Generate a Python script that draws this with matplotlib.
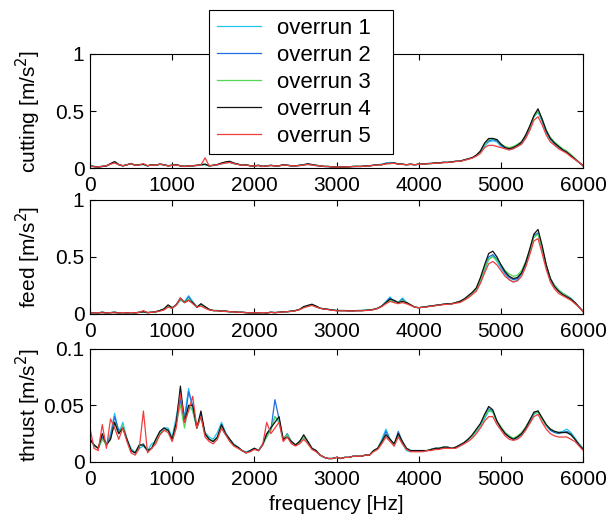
"""
Spectra of cutting, feed and thrust acceleration for five overruns.
"""

import numpy as np
import matplotlib.pyplot as plt

plt.rcParams["font.family"] = ["Liberation Sans", "DejaVu Sans"]

freq = np.arange(0, 6001, 50)  # Hz

labels = ["overrun 1", "overrun 2", "overrun 3", "overrun 4", "overrun 5"]
colors = ["#22c4f0", "#1f6fe0", "#55d655", "#111111", "#f03c3c"]

cut1 = [0.02,0.012,0.012,0.018,0.022,0.035,0.055,0.028,0.022,0.03,
        0.038,0.028,0.032,0.03,0.022,0.028,0.028,0.032,0.028,0.022,
        0.028,0.032,0.022,0.018,0.022,0.018,0.022,0.028,0.03,0.022,
        0.022,0.028,0.038,0.045,0.05,0.042,0.032,0.028,0.028,0.022,
        0.022,0.022,0.018,0.022,0.022,0.022,0.022,0.028,0.028,0.022,
        0.022,0.022,0.028,0.032,0.028,0.022,0.018,0.015,0.012,0.01,
        0.01,0.01,0.012,0.012,0.015,0.018,0.015,0.02,0.022,0.028,
        0.03,0.035,0.042,0.05,0.045,0.038,0.032,0.03,0.032,0.03,
        0.032,0.035,0.038,0.042,0.045,0.048,0.05,0.052,0.055,0.06,
        0.062,0.07,0.08,0.09,0.11,0.14,0.19,0.23,0.24,0.23,
        0.19,0.17,0.16,0.17,0.19,0.21,0.27,0.35,0.45,0.49,
        0.41,0.31,0.25,0.21,0.18,0.16,0.14,0.11,0.08,0.05,
        0.02]
cut2 = [0.02,0.015,0.01,0.015,0.018,0.038,0.05,0.03,0.02,0.028,
        0.042,0.025,0.03,0.033,0.02,0.03,0.025,0.036,0.03,0.022,
        0.025,0.03,0.02,0.016,0.02,0.022,0.025,0.03,0.034,0.02,
        0.025,0.03,0.042,0.05,0.052,0.04,0.034,0.025,0.03,0.02,
        0.02,0.025,0.016,0.02,0.025,0.02,0.02,0.03,0.025,0.02,
        0.02,0.025,0.03,0.036,0.03,0.025,0.02,0.015,0.015,0.01,
        0.01,0.01,0.01,0.012,0.014,0.015,0.015,0.02,0.02,0.025,
        0.03,0.032,0.045,0.042,0.044,0.035,0.035,0.03,0.034,0.03,
        0.035,0.034,0.04,0.04,0.044,0.045,0.05,0.05,0.055,0.06,
        0.06,0.07,0.08,0.09,0.11,0.15,0.21,0.24,0.25,0.24,
        0.2,0.18,0.17,0.18,0.2,0.22,0.28,0.36,0.45,0.5,
        0.42,0.32,0.26,0.22,0.19,0.16,0.14,0.11,0.08,0.05,
        0.02]
cut3 = [0.02,0.016,0.012,0.014,0.02,0.036,0.052,0.03,0.02,0.03,
        0.036,0.026,0.03,0.034,0.022,0.03,0.026,0.034,0.03,0.02,
        0.026,0.03,0.02,0.016,0.02,0.02,0.025,0.03,0.032,0.02,
        0.025,0.03,0.04,0.05,0.055,0.04,0.035,0.025,0.03,0.02,
        0.02,0.025,0.015,0.02,0.025,0.02,0.02,0.03,0.025,0.02,
        0.02,0.025,0.03,0.034,0.03,0.025,0.02,0.015,0.015,0.01,
        0.01,0.01,0.01,0.012,0.015,0.015,0.015,0.02,0.02,0.025,
        0.03,0.03,0.04,0.04,0.045,0.035,0.035,0.03,0.035,0.03,
        0.035,0.035,0.04,0.04,0.045,0.045,0.05,0.05,0.055,0.06,
        0.06,0.07,0.08,0.09,0.11,0.15,0.21,0.25,0.26,0.25,
        0.21,0.19,0.18,0.19,0.21,0.23,0.29,0.36,0.45,0.5,
        0.43,0.33,0.27,0.23,0.2,0.17,0.15,0.12,0.085,0.05,
        0.02]
cut4 = [0.02,0.014,0.01,0.015,0.02,0.04,0.058,0.032,0.02,0.03,
        0.04,0.025,0.03,0.035,0.02,0.03,0.025,0.035,0.03,0.02,
        0.025,0.03,0.02,0.015,0.02,0.02,0.025,0.03,0.035,0.02,
        0.025,0.032,0.045,0.055,0.06,0.045,0.035,0.025,0.03,0.02,
        0.02,0.025,0.015,0.02,0.025,0.02,0.02,0.03,0.025,0.02,
        0.02,0.025,0.03,0.038,0.032,0.025,0.02,0.015,0.015,0.01,
        0.01,0.01,0.01,0.012,0.015,0.015,0.015,0.02,0.02,0.025,
        0.03,0.03,0.04,0.042,0.046,0.036,0.035,0.03,0.035,0.03,
        0.035,0.036,0.04,0.042,0.046,0.046,0.052,0.05,0.056,0.06,
        0.062,0.072,0.082,0.092,0.115,0.15,0.22,0.26,0.26,0.25,
        0.21,0.18,0.17,0.18,0.2,0.23,0.29,0.37,0.46,0.52,
        0.43,0.33,0.26,0.22,0.19,0.16,0.14,0.11,0.08,0.05,
        0.02]
cut5 = [0.02,0.012,0.01,0.016,0.022,0.035,0.045,0.03,0.022,0.03,
        0.04,0.025,0.028,0.04,0.02,0.028,0.025,0.035,0.028,0.02,
        0.025,0.028,0.02,0.015,0.02,0.02,0.025,0.028,0.09,0.02,
        0.025,0.03,0.038,0.045,0.05,0.04,0.032,0.025,0.028,0.02,
        0.02,0.022,0.015,0.02,0.022,0.02,0.02,0.028,0.025,0.02,
        0.02,0.022,0.028,0.032,0.028,0.022,0.02,0.015,0.014,0.01,
        0.01,0.01,0.01,0.012,0.014,0.015,0.015,0.018,0.02,0.025,
        0.028,0.03,0.038,0.04,0.042,0.035,0.033,0.03,0.033,0.03,
        0.033,0.035,0.038,0.04,0.043,0.045,0.048,0.05,0.053,0.058,
        0.06,0.068,0.078,0.088,0.105,0.13,0.18,0.2,0.2,0.19,
        0.18,0.17,0.16,0.17,0.19,0.21,0.26,0.33,0.42,0.45,
        0.38,0.29,0.23,0.2,0.17,0.15,0.13,0.1,0.075,0.05,
        0.02]

feed1 = [0.01,0.01,0.012,0.014,0.01,0.012,0.014,0.01,0.012,0.01,
         0.012,0.01,0.014,0.018,0.012,0.015,0.018,0.028,0.04,0.065,
         0.05,0.08,0.12,0.11,0.16,0.11,0.06,0.075,0.06,0.04,
         0.03,0.03,0.025,0.022,0.02,0.02,0.015,0.015,0.012,0.01,
         0.01,0.01,0.012,0.01,0.014,0.012,0.015,0.02,0.02,0.025,
         0.03,0.04,0.06,0.075,0.085,0.065,0.05,0.045,0.04,0.035,
         0.03,0.03,0.03,0.028,0.028,0.03,0.03,0.032,0.035,0.04,
         0.05,0.07,0.11,0.15,0.11,0.1,0.14,0.1,0.08,0.06,
         0.055,0.06,0.065,0.07,0.075,0.08,0.085,0.09,0.09,0.1,
         0.11,0.13,0.15,0.18,0.21,0.28,0.38,0.48,0.51,0.46,
         0.4,0.35,0.3,0.28,0.3,0.35,0.43,0.55,0.68,0.7,
         0.57,0.42,0.31,0.25,0.21,0.18,0.16,0.14,0.1,0.06,
         0.02]
feed2 = [0.01,0.012,0.01,0.015,0.01,0.012,0.015,0.01,0.012,0.01,
         0.012,0.01,0.015,0.02,0.012,0.015,0.02,0.03,0.04,0.07,
         0.05,0.085,0.13,0.1,0.15,0.1,0.06,0.08,0.06,0.04,
         0.03,0.03,0.025,0.025,0.02,0.02,0.015,0.015,0.012,0.01,
         0.01,0.01,0.012,0.01,0.015,0.012,0.015,0.02,0.02,0.025,
         0.03,0.04,0.06,0.07,0.08,0.065,0.05,0.045,0.04,0.035,
         0.03,0.03,0.03,0.028,0.028,0.03,0.03,0.032,0.035,0.04,
         0.05,0.07,0.1,0.14,0.11,0.1,0.13,0.1,0.08,0.06,
         0.055,0.06,0.065,0.07,0.075,0.08,0.085,0.09,0.09,0.1,
         0.11,0.13,0.15,0.18,0.22,0.3,0.4,0.5,0.52,0.48,
         0.42,0.36,0.32,0.3,0.31,0.36,0.44,0.56,0.69,0.71,
         0.58,0.43,0.31,0.25,0.21,0.18,0.16,0.13,0.1,0.06,
         0.02]
feed3 = [0.01,0.012,0.01,0.015,0.01,0.012,0.015,0.01,0.012,0.01,
         0.012,0.01,0.015,0.02,0.012,0.015,0.02,0.03,0.04,0.07,
         0.05,0.08,0.13,0.1,0.13,0.1,0.06,0.08,0.06,0.04,
         0.03,0.03,0.025,0.025,0.02,0.02,0.015,0.015,0.012,0.01,
         0.01,0.01,0.012,0.01,0.015,0.012,0.015,0.02,0.02,0.025,
         0.03,0.04,0.06,0.07,0.08,0.065,0.05,0.045,0.04,0.035,
         0.03,0.03,0.03,0.028,0.028,0.03,0.03,0.032,0.035,0.04,
         0.05,0.07,0.1,0.12,0.1,0.1,0.12,0.1,0.08,0.06,
         0.055,0.06,0.065,0.07,0.075,0.08,0.085,0.09,0.09,0.1,
         0.11,0.13,0.15,0.18,0.22,0.3,0.4,0.48,0.5,0.47,
         0.43,0.38,0.35,0.33,0.34,0.38,0.46,0.56,0.67,0.7,
         0.58,0.42,0.31,0.25,0.21,0.18,0.16,0.13,0.1,0.06,
         0.02]
feed4 = [0.01,0.012,0.01,0.015,0.01,0.012,0.015,0.01,0.012,0.01,
         0.012,0.01,0.015,0.02,0.012,0.015,0.02,0.03,0.045,0.08,
         0.055,0.08,0.14,0.1,0.12,0.1,0.06,0.09,0.065,0.04,
         0.03,0.03,0.025,0.025,0.02,0.02,0.015,0.015,0.012,0.01,
         0.01,0.01,0.012,0.01,0.015,0.012,0.015,0.02,0.02,0.025,
         0.03,0.04,0.065,0.075,0.085,0.07,0.05,0.045,0.04,0.035,
         0.03,0.03,0.03,0.028,0.028,0.03,0.03,0.032,0.035,0.04,
         0.05,0.07,0.1,0.13,0.12,0.1,0.11,0.1,0.08,0.06,
         0.055,0.06,0.065,0.07,0.075,0.08,0.085,0.09,0.09,0.1,
         0.11,0.13,0.16,0.19,0.23,0.32,0.43,0.53,0.55,0.5,
         0.43,0.37,0.33,0.31,0.32,0.36,0.45,0.57,0.7,0.74,
         0.6,0.43,0.31,0.24,0.2,0.17,0.15,0.13,0.1,0.06,
         0.02]
feed5 = [0.01,0.01,0.012,0.01,0.01,0.012,0.01,0.01,0.012,0.01,
         0.012,0.01,0.015,0.03,0.012,0.015,0.018,0.025,0.035,0.06,
         0.05,0.08,0.14,0.1,0.12,0.09,0.06,0.07,0.05,0.035,
         0.03,0.028,0.025,0.022,0.02,0.018,0.015,0.015,0.012,0.01,
         0.01,0.01,0.012,0.01,0.014,0.012,0.015,0.018,0.02,0.022,
         0.028,0.038,0.055,0.065,0.075,0.06,0.05,0.042,0.038,0.032,
         0.028,0.028,0.028,0.026,0.026,0.028,0.028,0.03,0.032,0.038,
         0.048,0.065,0.09,0.11,0.1,0.09,0.1,0.09,0.075,0.06,
         0.055,0.058,0.062,0.068,0.072,0.078,0.082,0.085,0.088,0.095,
         0.1,0.12,0.14,0.17,0.2,0.27,0.36,0.44,0.46,0.43,
         0.38,0.33,0.3,0.28,0.29,0.33,0.41,0.52,0.64,0.66,
         0.53,0.39,0.28,0.22,0.18,0.16,0.14,0.12,0.09,0.06,
         0.02]

thr1 = [0.022,0.014,0.012,0.02,0.016,0.025,0.043,0.025,0.035,0.02,
        0.012,0.008,0.012,0.014,0.01,0.016,0.018,0.026,0.03,0.03,
        0.022,0.04,0.06,0.04,0.065,0.045,0.03,0.04,0.026,0.022,
        0.02,0.026,0.035,0.026,0.02,0.016,0.013,0.01,0.009,0.01,
        0.012,0.01,0.016,0.022,0.03,0.04,0.035,0.02,0.024,0.018,
        0.015,0.018,0.022,0.018,0.012,0.01,0.006,0.004,0.003,0.003,
        0.004,0.003,0.004,0.004,0.005,0.005,0.005,0.006,0.006,0.01,
        0.012,0.02,0.029,0.02,0.014,0.024,0.016,0.01,0.009,0.01,
        0.01,0.01,0.01,0.011,0.012,0.012,0.013,0.013,0.012,0.013,
        0.014,0.016,0.02,0.023,0.027,0.032,0.038,0.045,0.044,0.036,
        0.03,0.026,0.023,0.02,0.021,0.024,0.029,0.035,0.042,0.044,
        0.038,0.032,0.028,0.026,0.026,0.027,0.029,0.026,0.021,0.016,
        0.012]
thr2 = [0.02,0.015,0.012,0.022,0.015,0.022,0.04,0.028,0.03,0.02,
        0.01,0.008,0.014,0.016,0.01,0.012,0.018,0.024,0.028,0.028,
        0.02,0.035,0.055,0.035,0.062,0.05,0.03,0.042,0.024,0.02,
        0.018,0.022,0.03,0.024,0.02,0.015,0.013,0.01,0.008,0.01,
        0.012,0.01,0.015,0.024,0.028,0.055,0.038,0.02,0.025,0.018,
        0.015,0.018,0.022,0.018,0.012,0.01,0.006,0.004,0.003,0.003,
        0.004,0.003,0.004,0.004,0.005,0.005,0.005,0.006,0.006,0.01,
        0.012,0.018,0.027,0.02,0.015,0.027,0.018,0.012,0.01,0.01,
        0.01,0.01,0.01,0.011,0.012,0.012,0.013,0.013,0.012,0.013,
        0.015,0.017,0.02,0.023,0.028,0.033,0.04,0.047,0.045,0.036,
        0.03,0.025,0.022,0.02,0.022,0.025,0.03,0.036,0.043,0.045,
        0.038,0.032,0.028,0.026,0.025,0.026,0.027,0.025,0.02,0.015,
        0.011]
thr3 = [0.02,0.015,0.012,0.02,0.015,0.02,0.035,0.025,0.032,0.02,
        0.01,0.008,0.015,0.015,0.01,0.012,0.018,0.025,0.028,0.028,
        0.02,0.035,0.05,0.03,0.05,0.045,0.03,0.04,0.025,0.02,
        0.018,0.022,0.03,0.025,0.02,0.015,0.013,0.01,0.008,0.01,
        0.012,0.01,0.015,0.022,0.028,0.04,0.035,0.02,0.024,0.018,
        0.015,0.018,0.022,0.018,0.012,0.01,0.006,0.004,0.003,0.003,
        0.004,0.003,0.004,0.004,0.005,0.005,0.005,0.006,0.006,0.01,
        0.012,0.018,0.024,0.02,0.015,0.024,0.018,0.012,0.01,0.01,
        0.01,0.01,0.01,0.011,0.012,0.012,0.013,0.013,0.012,0.013,
        0.015,0.017,0.02,0.023,0.028,0.033,0.04,0.046,0.044,0.036,
        0.031,0.026,0.023,0.021,0.023,0.026,0.031,0.037,0.043,0.044,
        0.038,0.032,0.029,0.027,0.026,0.026,0.026,0.024,0.02,0.015,
        0.011]
thr4 = [0.02,0.015,0.012,0.025,0.015,0.02,0.035,0.025,0.03,0.02,
        0.01,0.008,0.015,0.015,0.01,0.012,0.02,0.027,0.03,0.028,
        0.02,0.035,0.067,0.035,0.05,0.05,0.03,0.045,0.025,0.02,
        0.018,0.022,0.033,0.025,0.02,0.015,0.013,0.01,0.008,0.01,
        0.012,0.01,0.015,0.025,0.03,0.035,0.04,0.02,0.022,0.018,
        0.015,0.018,0.024,0.018,0.012,0.01,0.006,0.004,0.003,0.003,
        0.004,0.003,0.004,0.004,0.005,0.005,0.005,0.006,0.006,0.01,
        0.012,0.018,0.024,0.02,0.016,0.025,0.018,0.012,0.01,0.01,
        0.01,0.01,0.01,0.011,0.012,0.012,0.013,0.013,0.012,0.013,
        0.015,0.017,0.02,0.024,0.029,0.034,0.042,0.049,0.046,0.036,
        0.03,0.025,0.022,0.02,0.022,0.025,0.03,0.037,0.044,0.045,
        0.039,0.033,0.029,0.027,0.026,0.026,0.026,0.024,0.02,0.015,
        0.011]
thr5 = [0.03,0.012,0.01,0.033,0.012,0.038,0.03,0.02,0.03,0.018,
        0.008,0.006,0.012,0.045,0.008,0.012,0.016,0.024,0.028,0.026,
        0.018,0.03,0.06,0.035,0.045,0.058,0.03,0.04,0.022,0.018,
        0.016,0.02,0.03,0.024,0.018,0.014,0.012,0.01,0.008,0.009,
        0.011,0.01,0.015,0.035,0.025,0.03,0.035,0.018,0.022,0.016,
        0.014,0.016,0.02,0.016,0.011,0.009,0.006,0.004,0.003,0.003,
        0.004,0.003,0.004,0.004,0.005,0.005,0.005,0.006,0.006,0.009,
        0.011,0.016,0.022,0.018,0.014,0.022,0.016,0.011,0.009,0.009,
        0.009,0.009,0.01,0.01,0.011,0.011,0.012,0.012,0.012,0.012,
        0.014,0.016,0.018,0.021,0.025,0.03,0.036,0.04,0.04,0.033,
        0.028,0.023,0.02,0.019,0.02,0.023,0.028,0.034,0.04,0.042,
        0.035,0.029,0.025,0.023,0.022,0.022,0.022,0.02,0.018,0.014,
        0.01]

panels = [
    ("cutting [m/s$^2$]", [cut1, cut2, cut3, cut4, cut5], 1.0, [0, 0.5, 1], ["0", "0.5", "1"]),
    ("feed [m/s$^2$]", [feed1, feed2, feed3, feed4, feed5], 1.0, [0, 0.5, 1], ["0", "0.5", "1"]),
    ("thrust [m/s$^2$]", [thr1, thr2, thr3, thr4, thr5], 0.1, [0, 0.05, 0.1], ["0", "0.05", "0.1"]),
]

# axes boxes in figure fractions: left, bottom, width, height
boxes = [(0.147, 0.676, 0.806, 0.220),
         (0.147, 0.395, 0.806, 0.220),
         (0.147, 0.110, 0.806, 0.218)]

fig = plt.figure(figsize=(6.12, 5.19), dpi=100)
lines = []
for (ylabel, series, ymax, yt, ytl), box in zip(panels, boxes):
    ax = fig.add_axes(box)
    for ys, c in zip(series, colors):
        ln, = ax.plot(freq, ys, color=c, lw=0.9)
        if len(lines) < 5:
            lines.append(ln)
    ax.set_xlim(0, 6000)
    ax.set_ylim(0, ymax)
    ax.set_xticks(range(0, 6001, 1000))
    ax.set_yticks(yt)
    ax.set_yticklabels(ytl)
    ax.tick_params(direction="in", top=True, right=True, length=4,
                   labelsize=15)
    ax.tick_params(axis="x", pad=6)
    ax.tick_params(axis="y", pad=4)
    ax.set_ylabel(ylabel, fontsize=15)
    ax.yaxis.set_label_coords(-0.095, 0.5)
    for s in ax.spines.values():
        s.set_linewidth(0.8)

ax.set_xlabel("frequency [Hz]", fontsize=15, labelpad=4)

# legend box spans roughly x 209-393 px, top at 10 px
leg = fig.legend(lines, labels, loc="upper left",
                 bbox_to_anchor=(0.3415, 0.70, 0.30, 0.281), mode="expand",
                 borderaxespad=0, fontsize=16, frameon=True, fancybox=False,
                 framealpha=1, edgecolor="black", handlelength=2.0,
                 handletextpad=0.7, labelspacing=0.27, borderpad=0.35)
leg.get_frame().set_linewidth(0.8)

plt.savefig("out.png", dpi=100)
